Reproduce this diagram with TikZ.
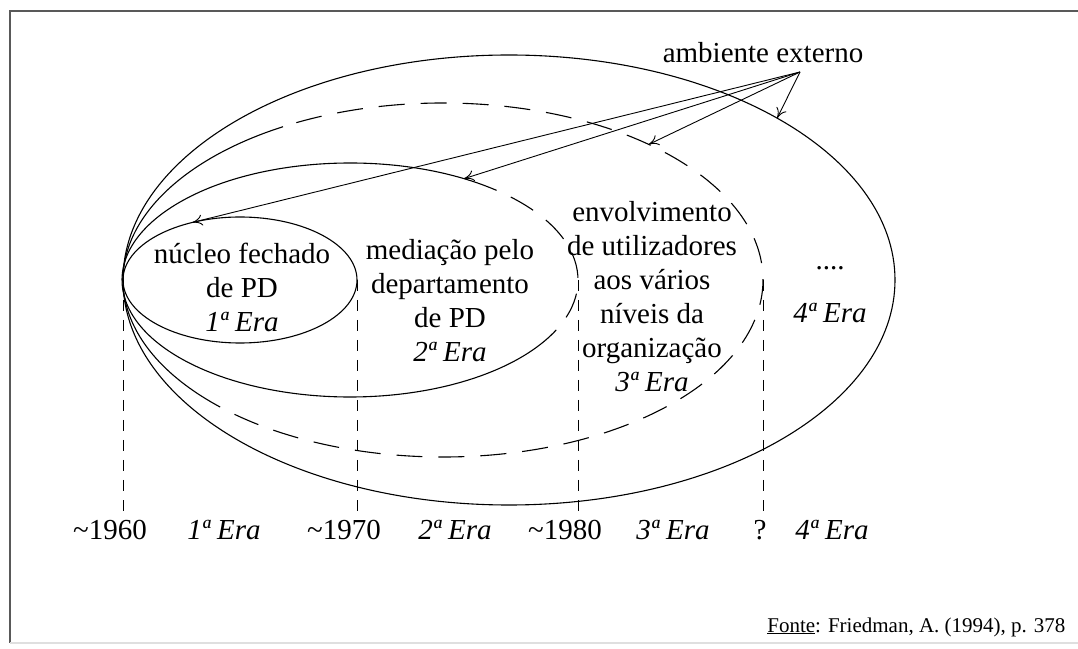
\documentclass[tikz,border=0pt]{standalone}
\usepackage{fontspec}
\setmainfont{Liberation Serif}
\usetikzlibrary{arrows.meta}

\begin{document}
\begin{tikzpicture}[x=1pt,y=1pt,line width=1.1pt,
  txt/.style={font=\fontsize{29}{34}\selectfont,align=center,inner sep=0pt},
  eradash/.style={dash pattern=on 26pt off 16pt},
  yeardash/.style={line width=0.9pt,dash pattern=on 11pt off 9pt},
  seta/.style={line width=0.9pt,-{To[length=10pt,width=11pt]}}]
\useasboundingbox (0,0) rectangle (1078,648);
\draw[gray!70!black] (1078,637) -- (10,637) -- (10,5);
\draw[gray!25] (10,5) -- (1078,5);

\coordinate (c1) at (240,368);
\coordinate (c2) at (350,368);
\coordinate (c3) at (443,368);
\coordinate (c4) at (509,368);
\coordinate (w) at (123,368);
\coordinate (e1) at (357,368);
\coordinate (e2) at (578,368);
\coordinate (e3) at (763,368);

\draw (c1) ellipse [x radius=117,y radius=63];
\draw (c2) ++(50:228 and 117) arc [start angle=50,end angle=325,x radius=228,y radius=117];
\draw[eradash] (c2) ++(-35:228 and 117) arc [start angle=-35,end angle=50,x radius=228,y radius=117];
\draw (c3) ++(120:320 and 177) arc [start angle=120,end angle=220,x radius=320,y radius=177];
\draw[eradash] (c3) ++(220:320 and 177) arc [start angle=220,end angle=480,x radius=320,y radius=177];
\draw (c4) ellipse [x radius=386,y radius=225];

\node[txt] (amblbl) at (763,595) {ambiente externo};
\coordinate (amb) at (800,576);
\path (c4) ++(46:386 and 225) coordinate (h4);
\path (c3) ++(50:320 and 177) coordinate (h3);
\path (c2) ++(60:228 and 117) coordinate (h2);
\path (c1) ++(114:117 and 63) coordinate (h1);
\draw[seta] (amb) -- (h4);
\draw[seta] (amb) -- (h3);
\draw[seta] (amb) -- (h2);
\draw[seta] (amb) -- (h1);

\node[txt] (era1txt) at (242,361) {núcleo fechado\\de PD\\\textit{1ª Era}};
\node[txt] (era2txt) at (450,347) {mediação pelo\\departamento\\de PD\\\textit{2ª Era}};
\node[txt] (era3txt) at (652,351) {envolvimento\\de utilizadores\\aos vários\\níveis da\\organização\\\textit{3ª Era}};
\node[txt] (dots) at (830,380) {....};
\node[txt] (era4txt) at (830,335) {\textit{4ª Era}};

\node[txt] (y60) at (110,118) {\textasciitilde1960};
\node[txt] (era1) at (224,118) {\textit{1ª Era}};
\node[txt] (y70) at (344,118) {\textasciitilde1970};
\node[txt] (era2) at (455,118) {\textit{2ª Era}};
\node[txt] (y80) at (565,118) {\textasciitilde1980};
\node[txt] (era3) at (673,118) {\textit{3ª Era}};
\node[txt] (yq) at (760,118) {?};
\node[txt] (era4) at (832,118) {\textit{4ª Era}};

\draw[yeardash] (w) -- (123,130);
\draw[yeardash] (e1) -- (357,130);
\draw[yeardash] (e2) -- (578,130);
\draw[yeardash] (e3) -- (763,130);

\node[txt,anchor=east,font=\fontsize{21}{25}\selectfont] (fonte) at (1066,21) {\underline{Fonte}: Friedman, A. (1994), p. 378};
\end{tikzpicture}
\end{document}
